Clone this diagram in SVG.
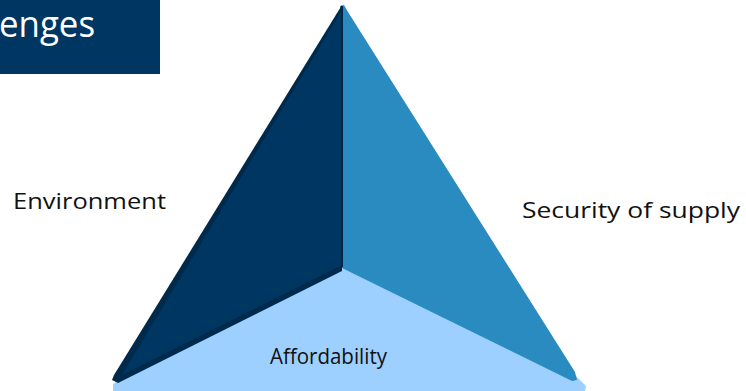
<svg xmlns="http://www.w3.org/2000/svg" width="746" height="391" viewBox="0 0 746 391">
  <style>
    .label { font-family: "Open Sans", "Liberation Sans", sans-serif; font-size: 22px; fill: #111111; }
    .title { font-family: "Open Sans", "Liberation Sans", sans-serif; font-size: 36px; fill: #ffffff; }
  </style>
  <rect width="746" height="391" fill="#ffffff"/>

  <!-- title banner -->
  <g id="title">
    <rect x="0" y="0" width="160" height="74" fill="#003662"/>
    <text class="title" x="-1" y="37" textLength="96" lengthAdjust="spacingAndGlyphs">enges</text>
  </g>

  <!-- pyramid seen from above -->
  <g id="pyramid">
    <!-- base face (top edge tucked under the side faces) -->
    <polygon id="base" points="113,384 342,264 576,376 586,386 585,391 113,391" fill="#9dd0ff"/>
    <!-- right face -->
    <polygon id="right-face" points="340,6 344,5 348,12 575,372 577,380 572,381 342,268" fill="#2a8bc0"/>
    <!-- left face with shaded rim -->
    <polygon id="left-rim" points="342,5 342,271 118,383 112,380 114,375" fill="#002a4c"/>
    <polygon id="left-face" points="342,10 342,265 122,375" fill="#003662"/>
    <line x1="342" y1="6" x2="342" y2="267" stroke="#00233f" stroke-width="2"/>
  </g>

  <g id="environment">
    <text class="label" x="13" y="209" textLength="153" lengthAdjust="spacingAndGlyphs">Environment</text>
  </g>
  <g id="security">
    <text class="label" x="522" y="218" textLength="218" lengthAdjust="spacingAndGlyphs">Security of supply</text>
  </g>
  <g id="affordability">
    <text class="label" x="270" y="364" textLength="117" lengthAdjust="spacingAndGlyphs">Affordability</text>
  </g>
</svg>
